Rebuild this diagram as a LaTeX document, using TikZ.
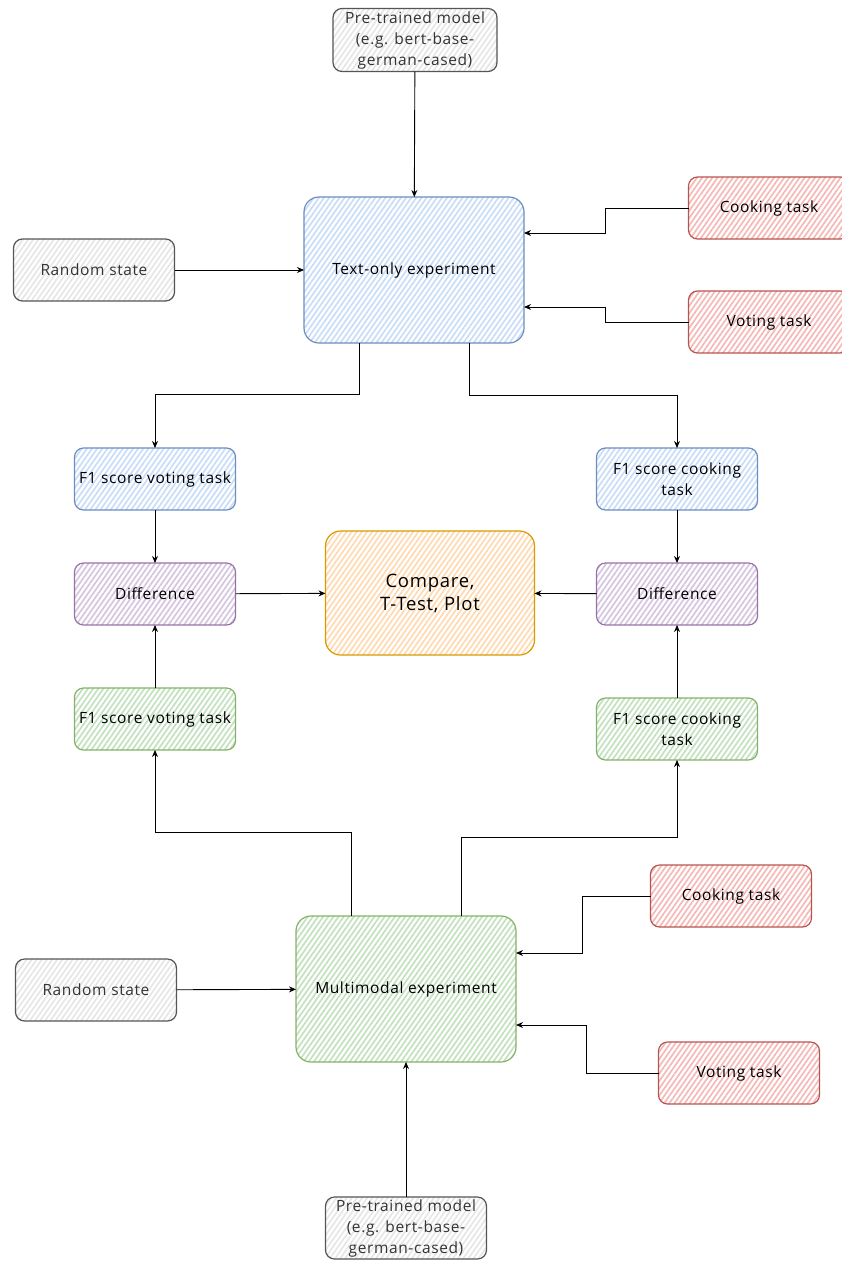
\documentclass[tikz,border=0pt]{standalone}
\usepackage{fontspec}
\setmainfont{Open Sans}[LetterSpace=4]
\usetikzlibrary{arrows.meta,patterns.meta,positioning}

\definecolor{bluestroke}{HTML}{6C8EBF}\definecolor{bluefill}{HTML}{C9DCF8}
\definecolor{redstroke}{HTML}{B85450}\definecolor{redfill}{HTML}{F4B9B7}
\definecolor{greenstroke}{HTML}{82B366}\definecolor{greenfill}{HTML}{C3E0BF}
\definecolor{purplestroke}{HTML}{9673A6}\definecolor{purplefill}{HTML}{D6C5E0}
\definecolor{orangestroke}{HTML}{D79B00}\definecolor{orangefill}{HTML}{FFD9B0}
\definecolor{graystroke}{HTML}{555555}\definecolor{grayfill}{HTML}{E6E6E6}
\definecolor{graytext}{HTML}{333333}

\tikzset{
  box/.style={draw, line width=1.2pt, rounded corners=9pt, inner sep=0pt, outer sep=0pt,
    align=center, font=\fontsize{15.5}{21}\selectfont, text=black,
    minimum width=161pt, minimum height=62pt},
  big/.style={box, rounded corners=15pt, minimum width=220pt, minimum height=146pt},
  hatch/.style={pattern={Lines[angle=55,distance=4.2pt,line width=1.7pt]}, pattern color=#1},
  bluebox/.style={draw=bluestroke, hatch=bluefill},
  redbox/.style={draw=redstroke, hatch=redfill},
  greenbox/.style={draw=greenstroke, hatch=greenfill},
  purplebox/.style={draw=purplestroke, hatch=purplefill},
  orangebox/.style={draw=orangestroke, hatch=orangefill},
  graybox/.style={draw=graystroke, hatch=grayfill, text=graytext},
  arr/.style={draw=black, line width=0.9pt, -{Stealth[length=7pt,width=6pt]}},
}

\begin{document}
\begin{tikzpicture}[x=1pt,y=-1pt]
\useasboundingbox (0,0) rectangle (842,1261);

% upper half: text-only experiment and its inputs
\node[box,graybox,minimum width=164pt,minimum height=63pt] (ptt) at (415,40) {Pre-trained model\\(e.g. bert-base-\\german-cased)};
\node[big,bluebox] (tx) at (414,270) {Text-only experiment};
\node[box,graybox] (rst) at (94,270) {Random state};
\node[box,redbox] (ckt) at (769,208) {Cooking task};
\node[box,redbox] (vtt) at (769,322) {Voting task};

% middle: scores, differences and comparison
\node[box,bluebox] (f1vb) at (155,479) {F1 score voting task};
\node[box,bluebox] (f1cb) at (677,479) {F1 score cooking\\task};
\node[box,purplebox] (dl) at (155,594) {Difference};
\node[box,purplebox] (dr) at (677,594) {Difference};
\node[box,orangebox,rounded corners=15pt,minimum width=209pt,minimum height=124pt,font=\fontsize{18.5}{23}\selectfont] (cmp) at (430,593) {Compare,\\T-Test, Plot};
\node[box,greenbox] (f1vg) at (155,719) {F1 score voting task};
\node[box,greenbox] (f1cg) at (677,729) {F1 score cooking\\task};

% lower half: multimodal experiment and its inputs
\node[big,greenbox] (mm) at (406,989) {Multimodal experiment};
\node[box,graybox] (rsb) at (96,990) {Random state};
\node[box,redbox] (ckb) at (731,896) {Cooking task};
\node[box,redbox] (vtb) at (739,1073) {Voting task};
\node[box,graybox] (ptb) at (406,1228) {Pre-trained model\\(e.g. bert-base-\\german-cased)};

% connectors into the text-only experiment
\draw[arr] (ptt) -- (tx);
\draw[arr] (rst) -- (tx);
\draw[arr] (ckt.west) -- ++(-83,0) |- ([yshift=37pt]tx.east);
\draw[arr] (vtt.west) -- ++(-83,0) |- ([yshift=-37pt]tx.east);

% text-only results
\draw[arr] ([xshift=-55pt]tx.south) -- ++(0,51) -| (f1vb.north);
\draw[arr] ([xshift=55pt]tx.south) -- ++(0,52) -| (f1cb.north);
\draw[arr] (f1vb) -- (dl);
\draw[arr] (f1cb) -- (dr);
\draw[arr] (dl) -- (cmp);
\draw[arr] (dr) -- (cmp);
\draw[arr] (f1vg) -- (dl);
\draw[arr] (f1cg) -- (dr);

% multimodal results
\draw[arr] ([xshift=-55pt]mm.north) -- ++(0,-84) -| (f1vg.south);
\draw[arr] ([xshift=55pt]mm.north) -- ++(0,-79) -| (f1cg.south);

% connectors into the multimodal experiment
\draw[arr] (ckb.west) -- ++(-68,0) |- ([yshift=36pt]mm.east);
\draw[arr] (vtb.west) -- ++(-72,0) |- ([yshift=-36pt]mm.east);
\draw[arr] (rsb) -- (mm);
\draw[arr] (ptb) -- (mm);
\end{tikzpicture}
\end{document}
